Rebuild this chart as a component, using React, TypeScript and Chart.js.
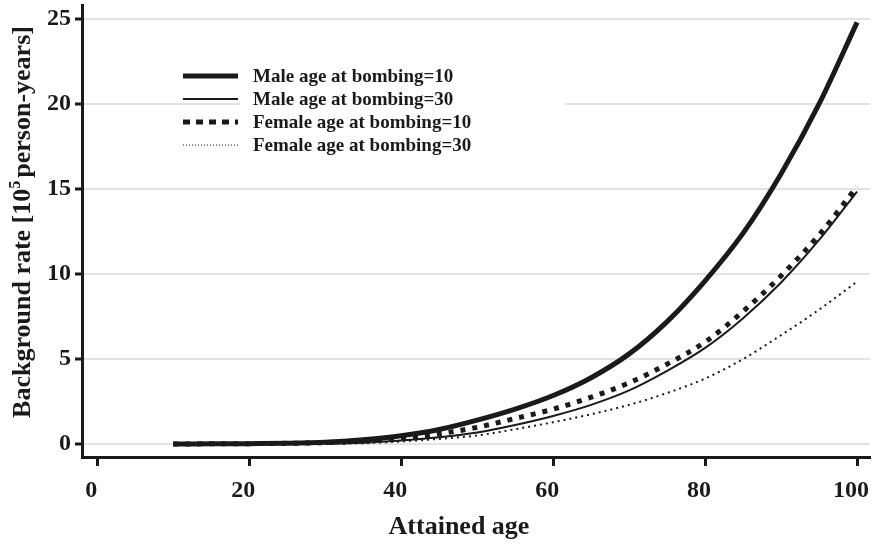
import React, { useEffect, useRef } from "react";
import { Chart, registerables } from "chart.js";

Chart.register(...registerables);

// ---- Data ----
const AGES_FROM_10 = [10, 15, 20, 25, 30, 35, 40, 45, 50, 55, 60, 65, 70, 75, 80, 85, 90, 95, 100];
const AGES_FROM_30 = [30, 35, 40, 45, 50, 55, 60, 65, 70, 75, 80, 85, 90, 95, 100];

const MALE_10 = [0, 0.01, 0.02, 0.04, 0.1, 0.25, 0.48, 0.85, 1.4, 2.05, 2.85, 3.9, 5.3, 7.2, 9.6, 12.4, 15.9, 20.0, 24.8];
const MALE_30 = [0, 0.08, 0.2, 0.4, 0.68, 1.12, 1.65, 2.3, 3.15, 4.3, 5.65, 7.4, 9.5, 12.0, 14.85];
const FEMALE_10 = [0, 0.01, 0.02, 0.04, 0.08, 0.17, 0.32, 0.6, 0.98, 1.5, 2.05, 2.75, 3.6, 4.7, 6.0, 7.8, 9.9, 12.3, 15.15];
const FEMALE_30 = [0, 0.05, 0.15, 0.3, 0.5, 0.87, 1.28, 1.75, 2.3, 3.0, 3.85, 5.0, 6.4, 7.9, 9.55];

const SERIES_LABELS = [
  "Male age at bombing=10",
  "Male age at bombing=30",
  "Female age at bombing=10",
  "Female age at bombing=30",
];

const X_TICKS = [0, 20, 40, 60, 80, 100];
const Y_TICKS = [0, 5, 10, 15, 20, 25];
const X_TITLE = "Attained age";
const Y_TITLE_PARTS = ["Background rate [10", "5", "person-years]"];

// ---- Styles ----
const INK = "#1a1a1a";
const GRID = "#e2e2e2";
const FONT_FAMILY = '"Liberation Serif", "Times New Roman", serif';
const LINE_WIDTHS = [5, 2, 5, 2];
const LINE_DASHES: number[][] = [[], [], [5, 7], [2, 4]];
const LEGEND_DASHES: number[][] = [[], [], [7, 6], [1, 2]];
const LEGEND_WIDTHS = [5, 2, 5, 1];

function pts(xs: number[], ys: number[]) {
  return xs.map((x, i) => ({ x, y: ys[i] }));
}

const legendPlugin = {
  id: "customLegend",
  beforeDatasetsDraw(chart: any) {
    const ctx = chart.ctx as CanvasRenderingContext2D;
    ctx.save();
    ctx.fillStyle = "#ffffff";
    ctx.fillRect(240, 64, 325, 92);
    chart.data.datasets.forEach((ds: any, i: number) => {
      const y = 76 + i * 23;
      ctx.beginPath();
      ctx.strokeStyle = INK;
      ctx.lineWidth = LEGEND_WIDTHS[i];
      ctx.lineCap = "butt";
      ctx.setLineDash(LEGEND_DASHES[i]);
      ctx.moveTo(183, y);
      ctx.lineTo(238, y);
      ctx.stroke();
      ctx.setLineDash([]);
      ctx.font = `bold 19px ${FONT_FAMILY}`;
      ctx.textBaseline = "middle";
      ctx.textAlign = "left";
      ctx.fillStyle = INK;
      ctx.fillText(ds.label, 253, y + 1);
    });
    ctx.restore();
  },
  afterDraw(chart: any) {
    const ctx = chart.ctx as CanvasRenderingContext2D;
    ctx.save();
    ctx.fillStyle = INK;
    // x title
    ctx.font = `bold 26px ${FONT_FAMILY}`;
    ctx.textAlign = "center";
    ctx.textBaseline = "middle";
    ctx.fillText(X_TITLE, 459, 527);
    // y title with superscript
    const big = `bold 26px ${FONT_FAMILY}`;
    const small = `bold 16px ${FONT_FAMILY}`;
    ctx.font = big;
    const w1 = ctx.measureText(Y_TITLE_PARTS[0]).width;
    const w3 = ctx.measureText(Y_TITLE_PARTS[2]).width;
    ctx.font = small;
    const w2 = ctx.measureText(Y_TITLE_PARTS[1]).width + 3;
    const total = w1 + w2 + w3;
    ctx.translate(21, 222);
    ctx.rotate(-Math.PI / 2);
    ctx.textAlign = "left";
    ctx.textBaseline = "alphabetic";
    let x = -total / 2;
    const base = 9;
    ctx.font = big;
    ctx.fillText(Y_TITLE_PARTS[0], x, base);
    x += w1;
    ctx.font = small;
    ctx.fillText(Y_TITLE_PARTS[1], x, base - 10);
    x += w2;
    ctx.font = big;
    ctx.fillText(Y_TITLE_PARTS[2], x, base);
    ctx.restore();
  },
};

export default function App() {
  const canvasRef = useRef<HTMLCanvasElement | null>(null);

  useEffect(() => {
    document.body.style.margin = "0";
    const canvas = canvasRef.current;
    if (!canvas) return;

    const seriesData = [
      pts(AGES_FROM_10, MALE_10),
      pts(AGES_FROM_30, MALE_30),
      pts(AGES_FROM_10, FEMALE_10),
      pts(AGES_FROM_30, FEMALE_30),
    ];

    const chart = new Chart(canvas, {
      type: "line",
      data: {
        datasets: seriesData.map((d, i) => ({
          label: SERIES_LABELS[i],
          data: d,
          borderColor: INK,
          backgroundColor: INK,
          borderWidth: LINE_WIDTHS[i],
          borderDash: LINE_DASHES[i],
          borderCapStyle: "butt" as const,
          pointRadius: 0,
          fill: false,
          cubicInterpolationMode: "monotone" as const,
        })),
      },
      options: {
        animation: false,
        responsive: false,
        maintainAspectRatio: false,
        layout: { padding: { top: 5, right: 5, left: 0, bottom: 0 } },
        plugins: {
          legend: { display: false },
          tooltip: { enabled: false },
        },
        scales: {
          x: {
            type: "linear",
            min: -2,
            max: 101.7,
            afterFit: (scale: any) => {
              scale.height = 87;
              scale.paddingLeft = 0;
              scale.paddingRight = 0;
            },
            afterBuildTicks: (scale: any) => {
              scale.ticks = X_TICKS.map((v) => ({ value: v }));
            },
            border: { display: true, color: INK, width: 3 },
            grid: {
              drawOnChartArea: false,
              drawTicks: true,
              tickLength: 9,
              tickWidth: 3,
              tickColor: INK,
            },
            ticks: {
              color: INK,
              font: { family: FONT_FAMILY, size: 24, weight: "bold" },
              padding: 10,
              labelOffset: -6,
              maxRotation: 0,
              autoSkip: false,
            },
          },
          y: {
            type: "linear",
            min: -0.765,
            max: 25.82,
            afterFit: (scale: any) => {
              scale.width = 82;
              scale.paddingTop = 0;
              scale.paddingBottom = 0;
            },
            afterBuildTicks: (scale: any) => {
              scale.ticks = Y_TICKS.map((v) => ({ value: v }));
            },
            border: { display: true, color: INK, width: 3 },
            grid: {
              drawOnChartArea: true,
              color: GRID,
              lineWidth: 2,
              drawTicks: true,
              tickLength: 7,
              tickWidth: 3,
              tickColor: INK,
            },
            ticks: {
              color: INK,
              font: { family: FONT_FAMILY, size: 24, weight: "bold" },
              padding: 4,
              autoSkip: false,
            },
          },
        },
      },
      plugins: [legendPlugin],
    });

    return () => {
      chart.destroy();
    };
  }, []);

  return (
    <div style={{ width: 875, height: 544, position: "relative", background: "#fff" }}>
      <canvas ref={canvasRef} width={875} height={544} style={{ width: 875, height: 544, display: "block" }} />
    </div>
  );
}
